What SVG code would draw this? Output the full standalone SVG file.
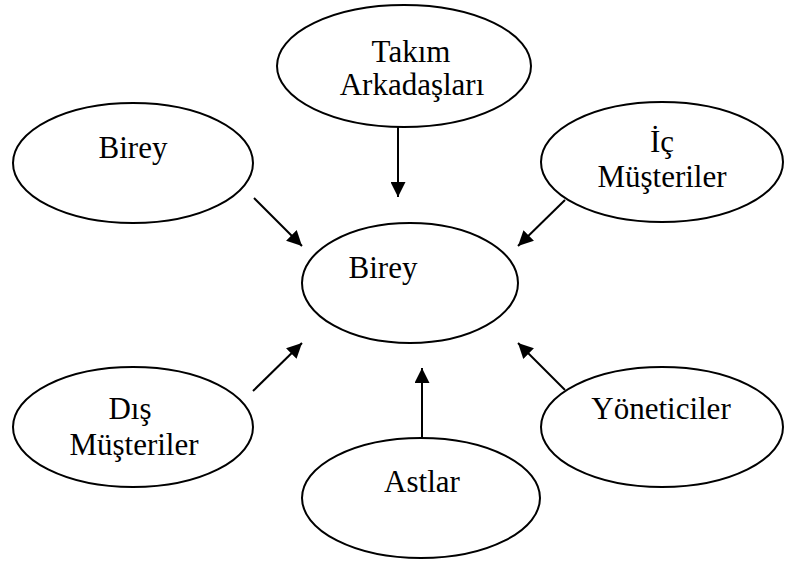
<svg xmlns="http://www.w3.org/2000/svg" width="786" height="583" viewBox="0 0 786 583">
<style>
.n ellipse{fill:#fff;stroke:#000;stroke-width:2}
.n text{font-family:"Liberation Serif","Times New Roman",serif;font-size:31px;fill:#000;text-anchor:middle}
.c line{stroke:#000;stroke-width:2;marker-end:url(#ah)}
</style>
<defs>
<marker id="ah" viewBox="0 0 10 10" refX="10" refY="5" markerWidth="7.5" markerHeight="7.5" markerUnits="strokeWidth" orient="auto">
<path d="M0,0 L10,5 L0,10 z" fill="#000"/>
</marker>
</defs>
<rect width="786" height="583" fill="#fff"/>
<g id="takim" class="n">
<ellipse cx="404" cy="66" rx="127" ry="61"/>
<text x="411" y="62">Takım</text>
<text x="412" y="95">Arkadaşları</text>
</g>
<g id="birey-left" class="n">
<ellipse cx="133" cy="163" rx="120" ry="60"/>
<text x="133" y="158">Birey</text>
</g>
<g id="ic" class="n">
<ellipse cx="662" cy="162" rx="121" ry="60"/>
<text x="662" y="152">İç</text>
<text x="662" y="187">Müşteriler</text>
</g>
<g id="birey-center" class="n">
<ellipse cx="410" cy="283" rx="108" ry="60"/>
<text x="383" y="278">Birey</text>
</g>
<g id="dis" class="n">
<ellipse cx="133" cy="427" rx="120" ry="60"/>
<text x="130" y="419">Dış</text>
<text x="134" y="455">Müşteriler</text>
</g>
<g id="astlar" class="n">
<ellipse cx="421" cy="498" rx="119" ry="60"/>
<text x="422" y="492">Astlar</text>
</g>
<g id="yoneticiler" class="n">
<ellipse cx="662" cy="427" rx="121" ry="60"/>
<text x="661" y="419">Yöneticiler</text>
</g>
<g id="connectors" class="c">
<line x1="398" y1="127" x2="398" y2="197"/>
<line x1="254" y1="198" x2="302" y2="246"/>
<line x1="565" y1="200" x2="518" y2="246"/>
<line x1="253" y1="391" x2="302" y2="343"/>
<line x1="422" y1="438" x2="422" y2="368"/>
<line x1="565" y1="390" x2="518" y2="343"/>
</g>
</svg>
